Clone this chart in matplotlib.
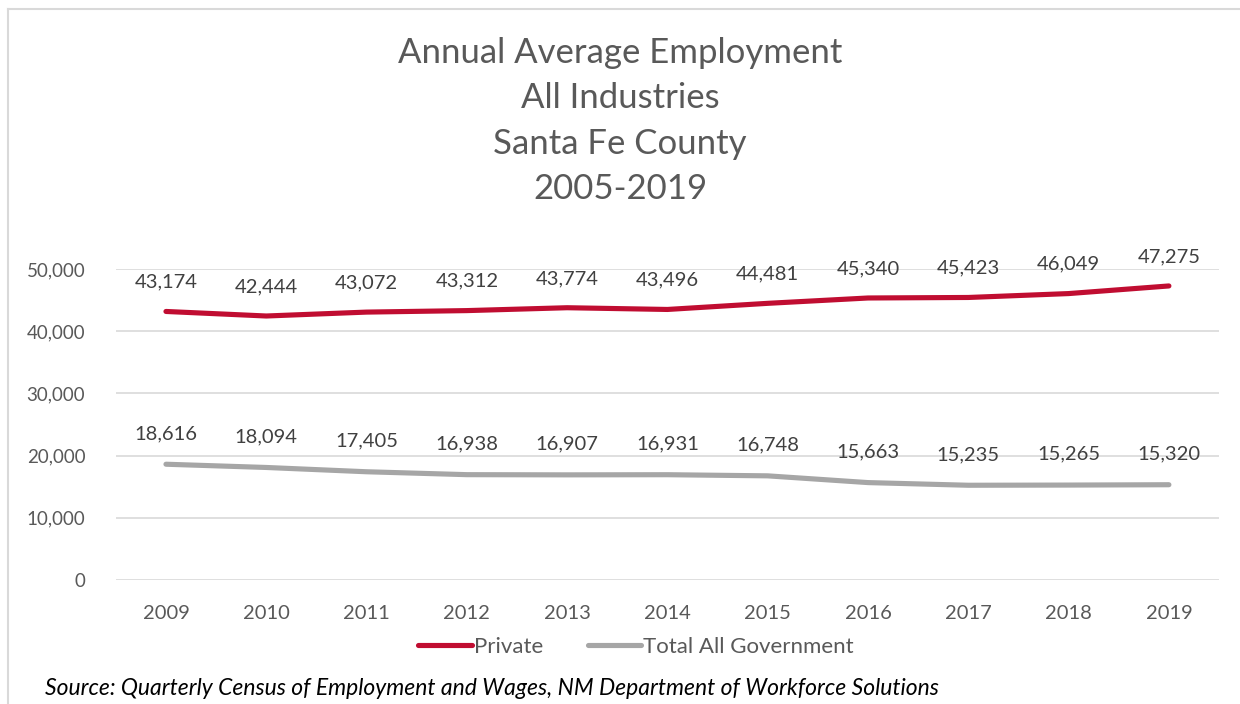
import matplotlib
matplotlib.use("Agg")
import matplotlib.pyplot as plt
from matplotlib.lines import Line2D
from matplotlib.ticker import FuncFormatter

plt.rcParams["font.family"] = ["Lato", "DejaVu Sans"]

# ---------------------------------------------------------------------------
# Data: annual average employment, Santa Fe County
# ---------------------------------------------------------------------------
years = ["2009", "2010", "2011", "2012", "2013", "2014",
         "2015", "2016", "2017", "2018", "2019"]
private = [43174, 42444, 43072, 43312, 43774, 43496,
           44481, 45340, 45423, 46049, 47275]
government = [18616, 18094, 17405, 16938, 16907, 16931,
              16748, 15663, 15235, 15265, 15320]

RED = "#C00D31"
GRAY = "#A6A6A6"
TEXT = "#595959"
LABEL = "#404040"

fig = plt.figure(figsize=(12.4, 7.04), dpi=100)
ax = fig.add_axes([0.0934, 0.1761, 0.8897, 0.4418])

x = list(range(len(years)))
ax.plot(x, private, color=RED, lw=3.7, solid_capstyle="round", zorder=3)
ax.plot(x, government, color=GRAY, lw=3.7, solid_capstyle="round", zorder=3)

# value labels above each point
for xi, v in zip(x, private):
    ax.annotate(f"{v:,}", (xi, v), xytext=(0, 15), textcoords="offset points",
                ha="center", va="bottom", fontsize=14.5, color=LABEL)
for xi, v in zip(x, government):
    ax.annotate(f"{v:,}", (xi, v), xytext=(0, 16), textcoords="offset points",
                ha="center", va="bottom", fontsize=14.5, color=LABEL)

ax.set_xlim(-0.5, len(years) - 0.5)
ax.set_ylim(0, 50000)
ax.set_yticks(range(0, 50001, 10000))
ax.yaxis.set_major_formatter(FuncFormatter(lambda v, _: f"{int(v):,}"))
ax.set_xticks(x)
ax.set_xticklabels(years)
ax.tick_params(axis="both", length=0, colors=TEXT)
ax.tick_params(axis="y", labelsize=13.5, pad=22)
ax.tick_params(axis="x", labelsize=14.5, pad=18)
ax.grid(axis="y", color="#D9D9D9", lw=1.2, zorder=0)
for s in ax.spines.values():
    s.set_visible(False)
for ln in ax.get_lines():
    ln.set_clip_on(False)

fig.text(0.5, 0.948, "Annual Average Employment\nAll Industries\nSanta Fe County\n2005-2019",
         ha="center", va="top", fontsize=25, color=TEXT, linespacing=1.52)

handles = [Line2D([], [], color=RED, lw=3.7, solid_capstyle="round"),
           Line2D([], [], color=GRAY, lw=3.7, solid_capstyle="round")]
fig.legend(handles, ["Private", "Total All Government"], loc="center",
           bbox_to_anchor=(0.513, 0.081), ncol=2, frameon=False, fontsize=16,
           handlelength=2.4, handletextpad=0.1, columnspacing=2.0,
           labelcolor=TEXT)

fig.text(0.036, 0.022, "Source: Quarterly Census of Employment and Wages, NM Department of Workforce Solutions",
         ha="left", va="center", fontsize=16.5, style="italic", color="black")

# chart border (top and left edges)
fig.add_artist(Line2D([8 / 1240, 1.0], [1 - 9 / 704, 1 - 9 / 704],
                      transform=fig.transFigure, color="#D9D9D9", lw=1.5))
fig.add_artist(Line2D([8 / 1240, 8 / 1240], [0.0, 1 - 9 / 704],
                      transform=fig.transFigure, color="#D9D9D9", lw=1.5))

fig.savefig("out.png", dpi=100, facecolor="white")
